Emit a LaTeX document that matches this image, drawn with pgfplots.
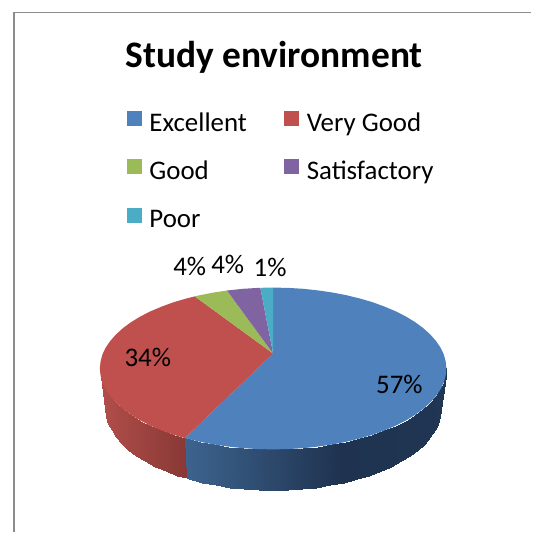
\documentclass[border=0pt]{standalone}
\usepackage{pgfplots}
\pgfplotsset{compat=1.18}
\usepackage{fontspec}
\setmainfont{Carlito}
\definecolor{cblue}{RGB}{79,129,189}
\definecolor{cred}{RGB}{192,80,77}
\definecolor{cgreen}{RGB}{155,187,89}
\definecolor{cpurple}{RGB}{128,100,162}
\definecolor{cteal}{RGB}{75,172,198}
\begin{document}
\begin{tikzpicture}
\begin{axis}[
  scale only axis, width=532bp, height=533bp,
  xmin=0, xmax=532, ymin=0, ymax=533, y dir=reverse,
  hide axis, clip=false,
  colormap={bluewall}{rgb255(0)=(61,100,143) rgb255(185)=(61,100,143) rgb255(340)=(31,51,80) rgb255(532)=(33,56,86)},
  colormap={redwall}{rgb255(0)=(178,78,74) rgb255(100)=(178,78,74) rgb255(185)=(137,57,54) rgb255(532)=(137,57,54)},
  point meta min=0, point meta max=532,
  legend columns=2,
  legend cell align=left,
  legend style={draw=none, fill=none, at={(axis cs:124,109)}, anchor=north west,
    font=\fontsize{27}{30}\selectfont, row sep=27bp,
    /tikz/every even column/.append style={column sep=30bp},
    nodes={inner sep=0pt, inner xsep=7.5bp, anchor=base west}},
  legend image code/.code={\fill[#1] (0bp,5bp) rectangle (15bp,20bp);},
]
\path (axis cs:0,0) rectangle (axis cs:532,533);
% side wall, Very Good
\addplot[forget plot, surf, shader=interp, colormap name=redwall, point meta=x, mesh/rows=2, mesh/cols=13] table {
185 438.7
174.0 435.4
162 431.0
150.8 426.3
140.6 421.1
131.4 415.5
123.25 409.5
116.3 403.2
110.5 396.7
105.9 390.0
102.6 383.1
100.7 376.1
100 369
187 479
177.4 476.4
165.8 472.0
155.1 467.3
145.2 462.1
136.3 456.5
128.4 450.5
121.7 444.2
116.1 437.7
111.7 431.0
108.5 424.1
106.6 417.1
106 410
};
% side wall, Excellent
\addplot[forget plot, surf, shader=interp, colormap name=bluewall, point meta=x, mesh/rows=2, mesh/cols=26] table {
447 369
446.3 376.1
444.4 383.1
441.1 390.0
436.5 396.7
430.7 403.2
423.75 409.5
415.6 415.5
406.4 421.1
396.2 426.3
385.0 431.0
373.0 435.4
360.25 439.1
346.8 442.4
332.8 445.1
318.4 447.2
303.6 448.8
288.6 449.7
273.5 450
258.4 449.7
243.4 448.8
228.6 447.2
214.2 445.1
200.2 442.4
186.75 439.1
185 438.7
441 410
440.4 417.1
438.5 424.1
435.3 431.0
430.9 437.7
425.3 444.2
418.6 450.5
410.7 456.5
401.8 462.1
391.9 467.3
381.2 472.0
369.6 476.4
357.25 480.1
344.3 483.4
330.8 486.1
316.8 488.2
302.6 489.8
288.1 490.7
273.5 491
258.9 490.7
244.4 489.8
230.2 488.2
216.2 486.1
202.7 483.4
189.75 480.1
187 479
};
% top faces
\addplot[fill=cblue, draw=none] coordinates {
(273.5,354)(273.5,288)(288.6,288.3)(303.6,289.2)(318.4,290.8)(332.8,292.9)(346.8,295.6)(360.25,298.9)(373.0,302.6)(385.0,307.0)(396.2,311.7)(406.4,316.9)(415.6,322.5)(423.75,328.5)(430.7,334.8)(436.5,341.3)(441.1,348.0)(444.4,354.9)(446.3,361.9)(447,369)(446.3,376.1)(444.4,383.1)(441.1,390.0)(436.5,396.7)(430.7,403.2)(423.75,409.5)(415.6,415.5)(406.4,421.1)(396.2,426.3)(385.0,431.0)(373.0,435.4)(360.25,439.1)(346.8,442.4)(332.8,445.1)(318.4,447.2)(303.6,448.8)(288.6,449.7)(273.5,450)(258.4,449.7)(243.4,448.8)(228.6,447.2)(214.2,445.1)(200.2,442.4)(186.75,439.1)(185,438.7)
} -- cycle;
\addlegendentry{Excellent}
\addplot[fill=cred, draw=none] coordinates {
(273.5,354)(185,438.7)(174.0,435.4)(162,431.0)(150.8,426.3)(140.6,421.1)(131.4,415.5)(123.25,409.5)(116.3,403.2)(110.5,396.7)(105.9,390.0)(102.6,383.1)(100.7,376.1)(100,369)(100.7,361.9)(102.6,354.9)(105.9,348.0)(110.5,341.3)(116.3,334.8)(123.25,328.5)(131.4,322.5)(140.6,316.9)(150.8,311.7)(162,307.0)(174.0,302.6)(186.75,298.9)(195,296.8)
} -- cycle;
\addlegendentry{Very Good}
\addplot[fill=cgreen, draw=none] coordinates {
(273.5,354)(195,296.8)(200.2,295.6)(214.2,292.9)(227.3,290.9)
} -- cycle;
\addlegendentry{Good}
\addplot[fill=cpurple, draw=none] coordinates {
(273.5,354)(227.3,290.9)(243.4,289.2)(258.4,288.3)(260.7,288.2)
} -- cycle;
\addlegendentry{Satisfactory}
\addplot[fill=cteal, draw=none] coordinates {
(273.5,354)(260.7,288.2)(273.5,288)
} -- cycle;
\addlegendentry{Poor}
% chart frame
\addplot[forget plot, color=black!45, line width=1.5bp] coordinates {(14,533)(14,12.5)(532,12.5)};
% title and data labels
\node[font=\fontsize{37.6}{40}\selectfont\bfseries, anchor=center] at (axis cs:274.5,57) {Study environment};
\begin{scope}[every node/.style={font=\fontsize{27}{30}\selectfont, anchor=center}]
\node at (axis cs:148,358) {34\%};
\node at (axis cs:400,385) {57\%};
\node at (axis cs:190,267) {4\%};
\node at (axis cs:228,265) {4\%};
\node at (axis cs:270.5,268) {1\%};
\end{scope}
\end{axis}
\end{tikzpicture}
\end{document}
